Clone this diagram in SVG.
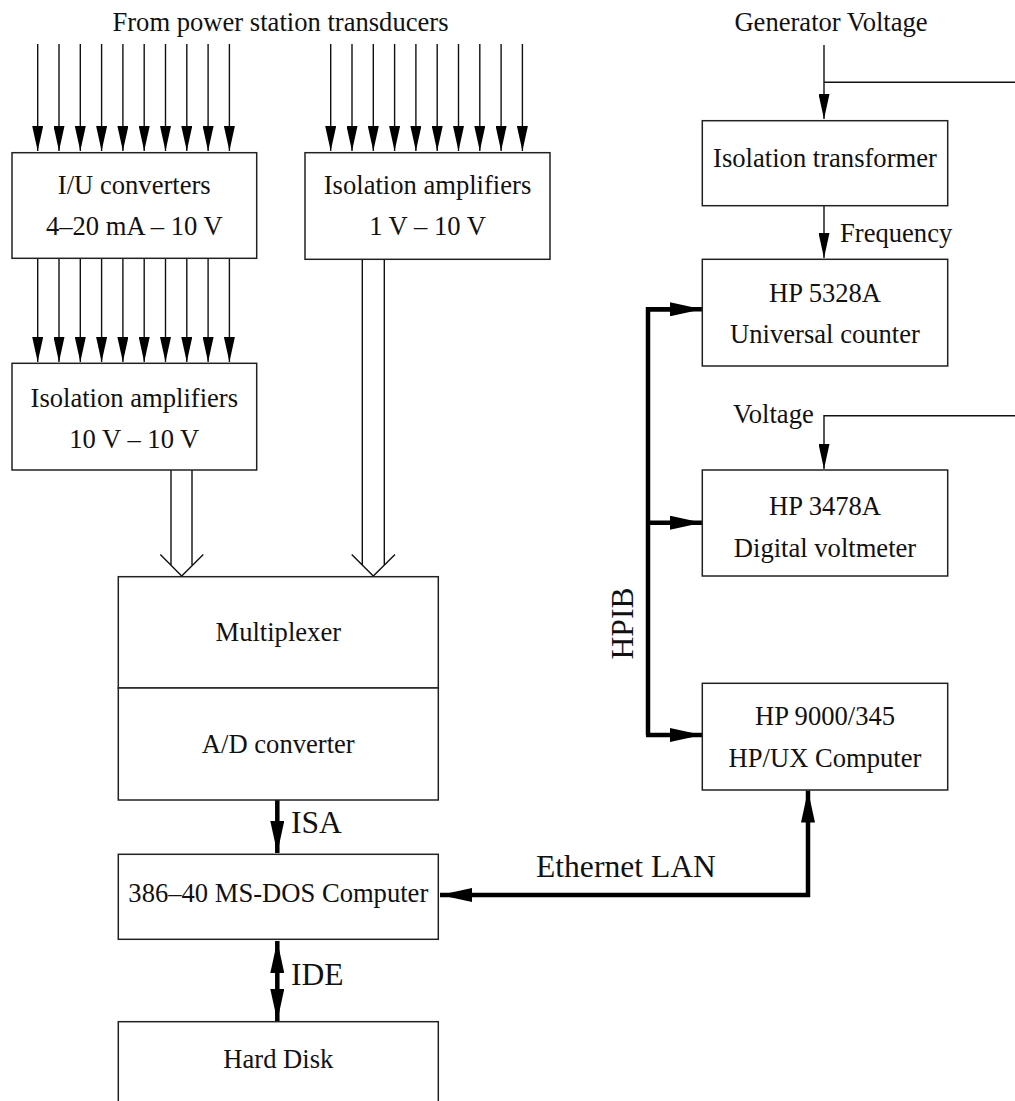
<svg xmlns="http://www.w3.org/2000/svg" width="1015" height="1101" viewBox="0 0 1015 1101">
  <style>
    text { font-family: "Liberation Serif", "Times New Roman", serif; fill: #111; }
    .lbl { font-size: 26.6px; }
    .big { font-size: 31.6px; }
    .mid { text-anchor: middle; }
    .box { fill: #fff; stroke: #222; stroke-width: 1.5; }
    .thin { fill: none; stroke: #111; stroke-width: 1.4; }
    .thick { fill: none; stroke: #000; stroke-width: 4.5; }
  </style>
  <defs>
    <marker id="ah" markerUnits="userSpaceOnUse" markerWidth="26" markerHeight="11" refX="25" refY="5.5" orient="auto">
      <path d="M0,0 L25,5.5 L0,11 z" fill="#000"/>
    </marker>
    <marker id="ahThick" markerUnits="userSpaceOnUse" markerWidth="33" markerHeight="14" refX="32" refY="7" orient="auto">
      <path d="M0,0 L32,7 L0,14 z" fill="#000"/>
    </marker>
    <marker id="ahThickStart" markerUnits="userSpaceOnUse" markerWidth="33" markerHeight="14" refX="32" refY="7" orient="auto-start-reverse">
      <path d="M0,0 L32,7 L0,14 z" fill="#000"/>
    </marker>
  </defs>

  <!-- free-standing labels -->
  <text class="lbl mid" x="280.5" y="31">From power station transducers</text>
  <text class="lbl mid" x="831" y="31">Generator Voltage</text>
  <text class="lbl" x="840" y="242">Frequency</text>
  <text class="lbl" x="733" y="423">Voltage</text>
  <text class="big" x="291" y="833">ISA</text>
  <text class="big" x="291" y="985">IDE</text>
  <text class="big" x="536" y="877">Ethernet LAN</text>
  <text class="big mid" transform="translate(633,623.5) rotate(-90)">HPIB</text>

  <!-- connectors -->
  <g id="connectors">
    <!-- transducer inputs, left bank -->
    <g class="thin" marker-end="url(#ah)">
      <line x1="37.7" y1="44" x2="37.7" y2="151"/>
      <line x1="59" y1="44" x2="59" y2="151"/>
      <line x1="80.3" y1="44" x2="80.3" y2="151"/>
      <line x1="101.6" y1="44" x2="101.6" y2="151"/>
      <line x1="122.9" y1="44" x2="122.9" y2="151"/>
      <line x1="144.2" y1="44" x2="144.2" y2="151"/>
      <line x1="165.5" y1="44" x2="165.5" y2="151"/>
      <line x1="186.8" y1="44" x2="186.8" y2="151"/>
      <line x1="208.1" y1="44" x2="208.1" y2="151"/>
      <line x1="229.4" y1="44" x2="229.4" y2="151"/>
    </g>
    <!-- transducer inputs, right bank -->
    <g class="thin" marker-end="url(#ah)">
      <line x1="330.7" y1="44" x2="330.7" y2="151"/>
      <line x1="352" y1="44" x2="352" y2="151"/>
      <line x1="373.3" y1="44" x2="373.3" y2="151"/>
      <line x1="394.6" y1="44" x2="394.6" y2="151"/>
      <line x1="415.9" y1="44" x2="415.9" y2="151"/>
      <line x1="437.2" y1="44" x2="437.2" y2="151"/>
      <line x1="458.5" y1="44" x2="458.5" y2="151"/>
      <line x1="479.8" y1="44" x2="479.8" y2="151"/>
      <line x1="501.1" y1="44" x2="501.1" y2="151"/>
      <line x1="522.4" y1="44" x2="522.4" y2="151"/>
    </g>
    <!-- I/U converters to isolation amplifiers -->
    <g class="thin" marker-end="url(#ah)">
      <line x1="37.7" y1="259" x2="37.7" y2="362"/>
      <line x1="59" y1="259" x2="59" y2="362"/>
      <line x1="80.3" y1="259" x2="80.3" y2="362"/>
      <line x1="101.6" y1="259" x2="101.6" y2="362"/>
      <line x1="122.9" y1="259" x2="122.9" y2="362"/>
      <line x1="144.2" y1="259" x2="144.2" y2="362"/>
      <line x1="165.5" y1="259" x2="165.5" y2="362"/>
      <line x1="186.8" y1="259" x2="186.8" y2="362"/>
      <line x1="208.1" y1="259" x2="208.1" y2="362"/>
      <line x1="229.4" y1="259" x2="229.4" y2="362"/>
    </g>
    <!-- hollow bus arrows into the multiplexer -->
    <path class="thin" d="M171,470 V565 M192,470 V565 M160.3,554.5 L181.7,576 L203.3,554.5"/>
    <path class="thin" d="M362.3,260 V565 M384.3,260 V565 M351.7,554.5 L373.3,576 L395,554.5"/>

    <!-- generator voltage feed -->
    <path class="thin" d="M824,45 V119" marker-end="url(#ah)"/>
    <path class="thin" d="M824,82.3 H1015"/>
    <path class="thin" d="M824,206 V258" marker-end="url(#ah)"/>
    <path class="thin" d="M1015,415.7 H824 V469" marker-end="url(#ah)"/>

    <!-- HPIB bus -->
    <path class="thick" d="M648,735 V309.3 H670"/>
    <line class="thick" x1="646" y1="309.3" x2="702" y2="309.3" marker-end="url(#ahThick)"/>
    <line class="thick" x1="646" y1="522.7" x2="702" y2="522.7" marker-end="url(#ahThick)"/>
    <line class="thick" x1="646" y1="735" x2="702" y2="735" marker-end="url(#ahThick)"/>

    <!-- Ethernet LAN -->
    <path class="thick" d="M440,895 H808 V790.5" marker-start="url(#ahThickStart)" marker-end="url(#ahThick)"/>

    <!-- ISA -->
    <line class="thick" x1="277.3" y1="800" x2="277.3" y2="853" marker-end="url(#ahThick)"/>
    <!-- IDE -->
    <line class="thick" x1="277.3" y1="941" x2="277.3" y2="1021" marker-start="url(#ahThickStart)" marker-end="url(#ahThick)"/>
  </g>

  <g id="iu-converters">
    <rect class="box" x="12" y="152.7" width="244.7" height="105.6"/>
    <text class="lbl mid" x="134.3" y="194">I/U converters</text>
    <text class="lbl mid" x="134.3" y="235">4–20 mA – 10 V</text>
  </g>
  <g id="iso-amp-1v">
    <rect class="box" x="305" y="152.7" width="245" height="106.6"/>
    <text class="lbl mid" x="427.5" y="194">Isolation amplifiers</text>
    <text class="lbl mid" x="427.5" y="235">1 V – 10 V</text>
  </g>
  <g id="iso-amp-10v">
    <rect class="box" x="12" y="363.3" width="244.7" height="106.7"/>
    <text class="lbl mid" x="134.3" y="406.7">Isolation amplifiers</text>
    <text class="lbl mid" x="134.3" y="448.3">10 V – 10 V</text>
  </g>
  <g id="multiplexer">
    <rect class="box" x="118.3" y="576.7" width="320" height="111.3"/>
    <text class="lbl mid" x="278.3" y="641">Multiplexer</text>
  </g>
  <g id="ad-converter">
    <rect class="box" x="118.3" y="688" width="320" height="112"/>
    <text class="lbl mid" x="278.3" y="753">A/D converter</text>
  </g>
  <g id="dos-computer">
    <rect class="box" x="118.3" y="854.3" width="320" height="85"/>
    <text class="lbl mid" x="278.3" y="901.7">386–40 MS-DOS Computer</text>
  </g>
  <g id="hard-disk">
    <rect class="box" x="118.3" y="1021.7" width="320" height="100"/>
    <text class="lbl mid" x="278.3" y="1068">Hard Disk</text>
  </g>
  <g id="iso-transformer">
    <rect class="box" x="702.3" y="120.7" width="245.4" height="85"/>
    <text class="lbl mid" x="825" y="166.7">Isolation transformer</text>
  </g>
  <g id="counter">
    <rect class="box" x="702.3" y="259.3" width="245.4" height="106.7"/>
    <text class="lbl mid" x="825" y="301.7">HP 5328A</text>
    <text class="lbl mid" x="825" y="343.3">Universal counter</text>
  </g>
  <g id="voltmeter">
    <rect class="box" x="702.3" y="470" width="245.4" height="106"/>
    <text class="lbl mid" x="825" y="515">HP 3478A</text>
    <text class="lbl mid" x="825" y="556.7">Digital voltmeter</text>
  </g>
  <g id="hp-computer">
    <rect class="box" x="702.3" y="683.3" width="245.4" height="106.7"/>
    <text class="lbl mid" x="825" y="725">HP 9000/345</text>
    <text class="lbl mid" x="825" y="766.7">HP/UX Computer</text>
  </g>
</svg>
